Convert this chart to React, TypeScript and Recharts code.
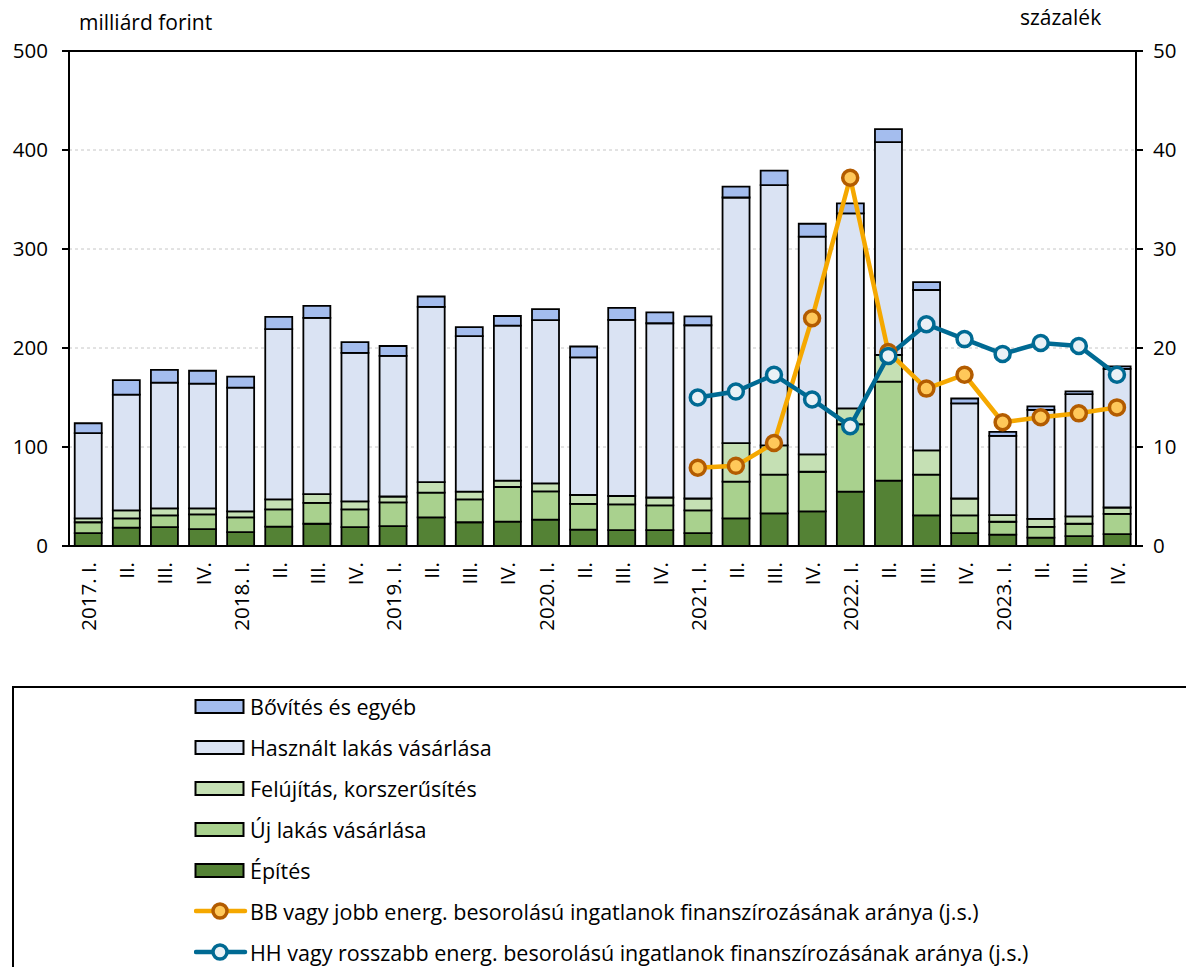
import { ComposedChart, Bar, Line, XAxis, YAxis, CartesianGrid, ReferenceLine } from "recharts";

const categories = [
    "2017. I.", "II.", "III.", "IV.",
    "2018. I.", "II.", "III.", "IV.",
    "2019. I.", "II.", "III.", "IV.",
    "2020. I.", "II.", "III.", "IV.",
    "2021. I.", "II.", "III.", "IV.",
    "2022. I.", "II.", "III.", "IV.",
    "2023. I.", "II.", "III.", "IV.",
];

// milliárd forint
const epites = [13, 18.5, 19, 17, 14, 19.5, 22.5, 19, 20, 29, 24, 24.6, 26.6, 16.5, 16, 16, 13, 28, 33, 35, 55, 66, 31, 13, 11.5, 8.4, 10, 12];
const ujLakas = [11, 9.5, 12, 15, 15, 17.5, 21, 18, 24, 25, 23, 35, 28.6, 26, 26, 25, 23, 37, 39, 40, 68, 100, 41, 18, 13, 11, 12.5, 20.5];
const felujitas = [4, 8, 7, 6, 6, 10, 9, 8, 6, 10.5, 8, 6.4, 8, 9, 8.5, 8, 12, 39, 29.6, 17.5, 16, 27, 24.6, 17, 6.7, 8, 7.5, 6.4];
const hasznalt = [86, 117, 127, 126, 125, 172, 178, 150, 142, 177, 157, 156.6, 165, 139, 178, 176, 175, 248, 263, 220, 197, 215, 162, 96, 80, 110, 123.5, 140];
const bovites = [10, 14.5, 13, 13, 11, 12.5, 12, 11, 10, 10.5, 9, 9.7, 11, 11, 12, 11, 9, 11, 14.5, 13, 10, 13, 8, 5, 4, 3.6, 2.7, 2.6];

// százalék (j.s.)
const bbArany = [null, null, null, null, null, null, null, null, null, null, null, null, null, null, null, null,
    7.9, 8.1, 10.4, 23.0, 37.2, 19.6, 15.9, 17.3, 12.5, 13.0, 13.4, 14.0];
const hhArany = [null, null, null, null, null, null, null, null, null, null, null, null, null, null, null, null,
    15.0, 15.6, 17.3, 14.8, 12.1, 19.2, 22.4, 20.9, 19.4, 20.5, 20.2, 17.3];

const leftTicks = [0, 100, 200, 300, 400, 500];
const rightTicks = [0, 10, 20, 30, 40, 50];

const FONT = "'Open Sans', 'Noto Sans', sans-serif";

const C_EPITES = "#548235";
const C_UJ = "#A9D18E";
const C_FELUJ = "#C5E0B4";
const C_HASZNALT = "#DAE3F3";
const C_BOVITES = "#A4BDEE";
const C_BB = "#F5A800";
const C_BB_DOT = "#FFC85A";
const C_BB_EDGE = "#B35C00";
const C_HH = "#006A93";
const C_HH_DOT = "#E9F1F6";

const BAR_EDGE = 1.8;

const data = categories.map((cat, i) => ({
    cat,
    epites: epites[i],
    uj: ujLakas[i],
    feluj: felujitas[i],
    hasznalt: hasznalt[i],
    bovites: bovites[i],
    bb: bbArany[i],
    hh: hhArany[i],
}));

const XTick = (props: any) => {
    const { x, y, payload } = props;
    return (
        <text
            transform={`translate(${x + 1},${y + 8}) rotate(-90)`}
            textAnchor="end"
            dy="0.35em"
            fontSize={20.5}
            fontFamily={FONT}
            fill="#000"
        >
            {payload.value}
        </text>
    );
};

const legendItems = [
    { label: "Bővítés és egyéb", kind: "bar", fill: C_BOVITES },
    { label: "Használt lakás vásárlása", kind: "bar", fill: C_HASZNALT },
    { label: "Felújítás, korszerűsítés", kind: "bar", fill: C_FELUJ },
    { label: "Új lakás vásárlása", kind: "bar", fill: C_UJ },
    { label: "Építés", kind: "bar", fill: C_EPITES },
    { label: "BB vagy jobb energ. besorolású ingatlanok finanszírozásának aránya (j.s.)", kind: "line", fill: C_BB_DOT, stroke: C_BB, edge: C_BB_EDGE },
    { label: "HH vagy rosszabb energ. besorolású ingatlanok finanszírozásának aránya (j.s.)", kind: "line", fill: C_HH_DOT, stroke: C_HH, edge: C_HH },
];

function LegendBox() {
    return (
        <div style={{ position: "absolute", left: 12, top: 686, width: 1200, height: 400, border: "2px solid #000", boxSizing: "border-box" }}>
            {legendItems.map((it, i) => (
                <div key={it.label} style={{ position: "absolute", left: 180, top: 5 + i * 41, height: 26, display: "flex", alignItems: "center" }}>
                    <svg width={54} height={22} style={{ marginRight: 2 }}>
                        {it.kind === "bar" ? (
                            <rect x={1.5} y={5} width={48} height={13} fill={it.fill} stroke="#000" strokeWidth={2} />
                        ) : (
                            <g>
                                <line x1={2} y1={11} x2={51} y2={11} stroke={it.stroke} strokeWidth={4.5} strokeLinecap="round" />
                                <circle cx={26} cy={11} r={7} fill={it.fill} stroke={it.edge} strokeWidth={3.5} />
                            </g>
                        )}
                    </svg>
                    <span style={{ fontFamily: FONT, fontSize: 21.5, color: "#000", whiteSpace: "nowrap" }}>{it.label}</span>
                </div>
            ))}
        </div>
    );
}

export default function App() {
    return (
        <div style={{ position: "absolute", left: 0, top: 0, width: 1186, height: 967, overflow: "hidden", background: "#fff", fontFamily: FONT }}>
            <div style={{ position: "absolute", left: 79, top: 8, fontSize: 21 }}>milliárd forint</div>
            <div style={{ position: "absolute", left: 1020, top: 3, fontSize: 21 }}>százalék</div>
            <div style={{ position: "absolute", left: 0, top: 0 }}>
                <ComposedChart width={1186} height={680} data={data} margin={{ top: 51, right: 0, bottom: 0, left: 0 }} barCategoryGap="15%">
                    <CartesianGrid yAxisId="left" vertical={false} stroke="#c6c6c6" strokeDasharray="3 3" />
                    <XAxis dataKey="cat" interval={0} tickLine={false} axisLine={{ stroke: "#000", strokeWidth: 2 }} height={134} tick={<XTick />} />
                    <YAxis
                        yAxisId="left"
                        domain={[0, 500]}
                        ticks={leftTicks}
                        width={69}
                        tickSize={7}
                        tickLine={{ stroke: "#000", strokeWidth: 2 }}
                        axisLine={{ stroke: "#000", strokeWidth: 2 }}
                        tick={{ fill: "#000", fontSize: 20.5, fontFamily: FONT }}
                        tickMargin={14}
                    />
                    <YAxis
                        yAxisId="right"
                        orientation="right"
                        domain={[0, 50]}
                        ticks={rightTicks}
                        width={50}
                        tickSize={7}
                        tickLine={{ stroke: "#000", strokeWidth: 2 }}
                        axisLine={{ stroke: "#000", strokeWidth: 2 }}
                        tick={{ fill: "#000", fontSize: 20.5, fontFamily: FONT }}
                        tickMargin={10}
                    />
                    <ReferenceLine yAxisId="left" y={500} stroke="#000" strokeWidth={2} />
                    <Bar yAxisId="left" dataKey="epites" stackId="a" fill={C_EPITES} stroke="#000" strokeWidth={BAR_EDGE} isAnimationActive={false} />
                    <Bar yAxisId="left" dataKey="uj" stackId="a" fill={C_UJ} stroke="#000" strokeWidth={BAR_EDGE} isAnimationActive={false} />
                    <Bar yAxisId="left" dataKey="feluj" stackId="a" fill={C_FELUJ} stroke="#000" strokeWidth={BAR_EDGE} isAnimationActive={false} />
                    <Bar yAxisId="left" dataKey="hasznalt" stackId="a" fill={C_HASZNALT} stroke="#000" strokeWidth={BAR_EDGE} isAnimationActive={false} />
                    <Bar yAxisId="left" dataKey="bovites" stackId="a" fill={C_BOVITES} stroke="#000" strokeWidth={BAR_EDGE} isAnimationActive={false} />
                    <Line
                        yAxisId="right"
                        dataKey="bb"
                        stroke={C_BB}
                        strokeWidth={4.5}
                        dot={{ r: 7.5, fill: C_BB_DOT, stroke: C_BB_EDGE, strokeWidth: 3.5 }}
                        isAnimationActive={false}
                    />
                    <Line
                        yAxisId="right"
                        dataKey="hh"
                        stroke={C_HH}
                        strokeWidth={4.5}
                        dot={{ r: 7.5, fill: C_HH_DOT, stroke: C_HH, strokeWidth: 3.5 }}
                        isAnimationActive={false}
                    />
                </ComposedChart>
            </div>
            <LegendBox />
        </div>
    );
}
